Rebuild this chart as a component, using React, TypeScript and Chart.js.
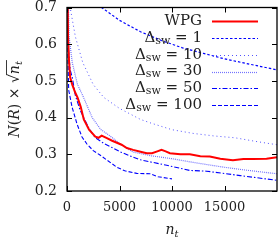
import React, { useEffect, useRef } from 'react';
import { Chart, registerables } from 'chart.js';
Chart.register(...registerables);

// ---- data ----
const xTicks = [0, 5000, 10000, 15000];
const yTicks = [0.2, 0.3, 0.4, 0.5, 0.6, 0.7];

const wpgN = [0, 100, 200, 300, 500, 800, 1000, 1300, 1600, 2100, 2700, 3000, 3300, 3800, 4300, 5200, 5700, 6300, 7000, 7600, 8100, 8600, 9000, 9400, 9800, 10800, 11700, 12700, 13600, 14600, 15800, 16800, 17700, 19000, 20000];
const wpgV = [0.9, 0.62, 0.55, 0.51, 0.49, 0.467, 0.455, 0.43, 0.395, 0.367, 0.348, 0.345, 0.351, 0.344, 0.337, 0.326, 0.317, 0.312, 0.307, 0.303, 0.303, 0.308, 0.312, 0.308, 0.303, 0.3, 0.3, 0.295, 0.294, 0.288, 0.284, 0.287, 0.287, 0.288, 0.292];

const sw1N = [0, 1000, 2000, 3300, 5000, 7000, 9000, 11000, 13000, 15000, 17000, 20000];
const sw1V = [1.2, 0.85, 0.76, 0.7, 0.665, 0.634, 0.61, 0.59, 0.575, 0.56, 0.548, 0.53];

const sw10N = [0, 300, 800, 1500, 2500, 3500, 5000, 6000, 7000, 8000, 10000, 12000, 14000, 16000, 18000, 20000];
const sw10V = [0.9, 0.7, 0.62, 0.55, 0.49, 0.455, 0.425, 0.41, 0.395, 0.385, 0.367, 0.357, 0.35, 0.345, 0.335, 0.326];

const sw30N = [0, 200, 500, 1000, 1500, 2400, 3200, 4100, 5200, 6300, 7000, 8000, 10000, 12000, 14900, 17000, 20000];
const sw30V = [0.9, 0.62, 0.55, 0.49, 0.46, 0.4, 0.368, 0.35, 0.325, 0.306, 0.302, 0.296, 0.288, 0.278, 0.265, 0.257, 0.247];

const sw50N = [0, 100, 300, 500, 800, 1250, 2100, 2700, 3500, 5200, 6300, 7000, 9500, 11700, 13300, 16500, 20000];
const sw50V = [0.9, 0.6, 0.53, 0.51, 0.46, 0.42, 0.37, 0.345, 0.33, 0.305, 0.292, 0.285, 0.27, 0.256, 0.254, 0.242, 0.229];

const sw100N = [0, 100, 160, 480, 950, 1430, 1900, 2500, 3140, 4730, 5500, 6640, 7900, 8670, 10000];
const sw100V = [0.9, 0.55, 0.475, 0.429, 0.383, 0.347, 0.328, 0.31, 0.298, 0.265, 0.255, 0.248, 0.247, 0.239, 0.233];

const labels = ['WPG', '1', '10', '30', '50', '100'];

const zip = (n: number[], v: number[]) => n.map((x, i) => ({ x, y: v[i] }));

const SERIF = '"DejaVu Serif", serif';
const TEXT = '#222';

const framePlugin = {
  id: 'frameTicks',
  afterDraw(chart: any) {
    const { ctx, chartArea: a, scales } = chart;
    const xs = scales.x, ys = scales.y;
    ctx.save();
    ctx.strokeStyle = '#000';
    ctx.lineWidth = 1.3;
    ctx.strokeRect(a.left, a.top, a.right - a.left, a.bottom - a.top);
    ctx.lineWidth = 1;
    const L = 5;
    ctx.beginPath();
    xTicks.forEach((t) => {
      const px = Math.round(xs.getPixelForValue(t)) + 0.5;
      ctx.moveTo(px, a.bottom); ctx.lineTo(px, a.bottom - L);
      ctx.moveTo(px, a.top); ctx.lineTo(px, a.top + L);
    });
    yTicks.forEach((t) => {
      const py = Math.round(ys.getPixelForValue(t)) + 0.5;
      ctx.moveTo(a.left, py); ctx.lineTo(a.left + L, py);
      ctx.moveTo(a.right, py); ctx.lineTo(a.right - L, py);
    });
    ctx.stroke();

    // y title: N(R) × √n_t
    const fs = 14;
    const segs: { t: string; f: string; dy?: number }[] = [
      { t: 'N', f: `italic ${fs}px ${SERIF}` },
      { t: '(', f: `${fs}px ${SERIF}` },
      { t: 'R', f: `italic ${fs}px ${SERIF}` },
      { t: ') × ', f: `${fs}px ${SERIF}` },
      { t: '√', f: `${fs}px ${SERIF}` },
      { t: 'n', f: `italic ${fs}px ${SERIF}` },
      { t: 't', f: `italic ${10}px ${SERIF}`, dy: 3 },
    ];
    let tot = 0;
    const ws = segs.map((s) => { ctx.font = s.f; const w = ctx.measureText(s.t).width; tot += w; return w; });
    ctx.translate(19, (a.top + a.bottom) / 2);
    ctx.rotate(-Math.PI / 2);
    ctx.fillStyle = TEXT;
    ctx.textBaseline = 'alphabetic';
    ctx.textAlign = 'left';
    let cx = -tot / 2;
    let nStart = 0, nEnd = 0;
    segs.forEach((s, i) => {
      ctx.font = s.f;
      if (s.t === 'n') nStart = cx;
      ctx.fillText(s.t, cx, s.dy || 0);
      cx += ws[i];
      if (s.t === 't') nEnd = cx;
    });
    ctx.strokeStyle = TEXT;
    ctx.lineWidth = 0.9;
    ctx.beginPath();
    ctx.moveTo(nStart - 1, -12.5);
    ctx.lineTo(nEnd + 1, -12.5);
    ctx.stroke();
    ctx.restore();

    // x title n_t
    ctx.save();
    ctx.fillStyle = TEXT;
    ctx.textBaseline = 'alphabetic';
    ctx.textAlign = 'left';
    ctx.font = `italic ${fs}px ${SERIF}`;
    const wn = ctx.measureText('n').width;
    ctx.font = `italic 10px ${SERIF}`;
    const wt = ctx.measureText('t').width;
    const mid = (a.left + a.right) / 2;
    const x0 = mid - (wn + wt) / 2;
    ctx.font = `italic ${fs}px ${SERIF}`;
    ctx.fillText('n', x0, 234);
    ctx.font = `italic 10px ${SERIF}`;
    ctx.fillText('t', x0 + wn, 237);
    ctx.restore();

    // legend
    ctx.save();
    ctx.fillStyle = TEXT;
    ctx.textBaseline = 'middle';
    ctx.textAlign = 'left';
    const rowY = [21, 38, 55, 71.5, 88, 105];
    const textRight = 202;
    const lf = 15;
    chart.data.datasets.forEach((ds: any, i: number) => {
      const y = rowY[i];
      let parts: { t: string; f: string; dy: number }[];
      if (i === 0) parts = [{ t: 'WPG', f: `${lf}px ${SERIF}`, dy: 0 }];
      else parts = [
        { t: 'Δ', f: `${lf}px ${SERIF}`, dy: 0 },
        { t: 'sw', f: `11px ${SERIF}`, dy: 3 },
        { t: ' = ' + labels[i], f: `${lf}px ${SERIF}`, dy: 0 },
      ];
      let w = 0;
      const pw = parts.map((p) => { ctx.font = p.f; const m = ctx.measureText(p.t).width; w += m; return m; });
      let xx = textRight - w;
      parts.forEach((p, k) => { ctx.font = p.f; ctx.fillText(p.t, xx, y + p.dy); xx += pw[k]; });
      ctx.strokeStyle = ds.borderColor;
      ctx.lineWidth = ds.borderWidth;
      ctx.setLineDash(ds.borderDash || []);
      ctx.beginPath();
      ctx.moveTo(212, Math.round(y) + 0.5);
      ctx.lineTo(258, Math.round(y) + 0.5);
      ctx.stroke();
      ctx.setLineDash([]);
    });
    ctx.restore();
  },
};

export default function App() {
  const ref = useRef<HTMLCanvasElement>(null);
  useEffect(() => {
    document.body.style.margin = '0';
    const blue = '#0000ff';
    const chart = new Chart(ref.current!, {
      type: 'line',
      data: {
        datasets: [
          { label: 'WPG', data: zip(wpgN, wpgV), borderColor: '#ff0000', borderWidth: 2, pointRadius: 0, order: 0 },
          { label: 'sw1', data: zip(sw1N, sw1V), borderColor: blue, borderWidth: 1.2, borderDash: [2.5, 2], pointRadius: 0 },
          { label: 'sw10', data: zip(sw10N, sw10V), borderColor: 'rgba(40,40,255,0.8)', borderWidth: 1, borderDash: [1, 3], pointRadius: 0 },
          { label: 'sw30', data: zip(sw30N, sw30V), borderColor: 'rgba(80,80,255,0.8)', borderWidth: 1.2, borderDash: [1, 1], pointRadius: 0 },
          { label: 'sw50', data: zip(sw50N, sw50V), borderColor: blue, borderWidth: 1.1, borderDash: [5, 2, 1.5, 2], pointRadius: 0 },
          { label: 'sw100', data: zip(sw100N, sw100V), borderColor: blue, borderWidth: 1.1, borderDash: [4, 2], pointRadius: 0 },
        ],
      },
      options: {
        animation: false,
        responsive: false,
        maintainAspectRatio: false,
        layout: { padding: { left: 0, right: 2, top: 7.5, bottom: 0 } },
        plugins: { legend: { display: false }, tooltip: { enabled: false } },
        scales: {
          x: {
            type: 'linear', min: 0, max: 20000,
            grid: { display: false, drawTicks: false }, border: { display: false },
            ticks: { stepSize: 5000, padding: 9, color: TEXT, font: { family: SERIF, size: 13 }, maxRotation: 0,
              callback: (v: any) => (v >= 20000 ? '' : String(v)) },
            afterFit: (s: any) => { s.height = 49; s.paddingLeft = 0; s.paddingRight = 0; },
          },
          y: {
            type: 'linear', min: 0.2, max: 0.7,
            grid: { display: false, drawTicks: false }, border: { display: false },
            ticks: { stepSize: 0.1, padding: 10, color: TEXT, font: { family: SERIF, size: 14 },
              callback: (v: any) => Number(v).toFixed(1) },
            afterFit: (s: any) => { s.width = 67; s.paddingTop = 0; s.paddingBottom = 0; },
          },
        },
      },
      plugins: [framePlugin],
    });
    return () => chart.destroy();
  }, []);
  return (
    <div style={{ position: 'fixed', left: 0, top: 0, width: 279, height: 240, background: '#fff' }}>
      <canvas ref={ref} width={279} height={240} style={{ display: 'block' }} />
    </div>
  );
}
